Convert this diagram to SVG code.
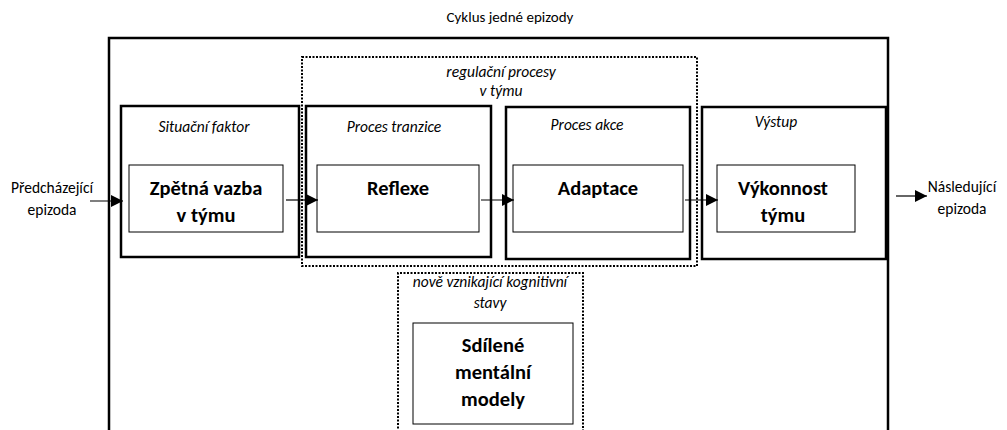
<svg xmlns="http://www.w3.org/2000/svg" width="1007" height="430" viewBox="0 0 1007 430">
<style>
text{font-family:Carlito,Lato,"Open Sans",sans-serif;fill:#000}
.t{font-size:15.5px}
.i{font-size:15.5px;font-style:italic}
.b{font-size:20.5px;font-weight:bold}
.box{fill:#fff;stroke:#000;stroke-width:2.5}
.in{fill:#fff;stroke:#000;stroke-width:1}
.dot{fill:none;stroke:#000;stroke-width:2;stroke-dasharray:2 1.5}
.c{stroke:#000;stroke-width:1.2;fill:none;marker-end:url(#ah)}
</style>
<defs>
<marker id="ah" viewBox="0 0 12 12" refX="12" refY="6" markerWidth="12" markerHeight="12" markerUnits="userSpaceOnUse" orient="auto">
<path d="M0,0 L12,6 L0,12 Z" fill="#000"/>
</marker>
</defs>
<rect width="1007" height="430" fill="#fff"/>
<text class="t" x="510" y="22" text-anchor="middle" style="font-size:15px">Cyklus jedné epizody</text>
<g id="outer"><path d="M109,432 V38 H888 V432" fill="none" stroke="#000" stroke-width="2.5"/></g>
<g id="regulacni">
<rect class="dot" x="302" y="57" width="395" height="209"/>
<text class="i" x="501" y="77" text-anchor="middle">regulační procesy</text>
<text class="i" x="501" y="96" text-anchor="middle">v týmu</text>
</g>
<g id="situacni">
<rect class="box" x="121" y="106" width="178" height="151"/>
<text class="i" x="204" y="132" text-anchor="middle">Situační faktor</text>
<rect class="in" x="129" y="165" width="154" height="67"/>
<text class="b" x="206" y="195" text-anchor="middle">Zpětná vazba</text>
<text class="b" x="206" y="222" text-anchor="middle">v týmu</text>
</g>
<g id="tranzice">
<rect class="box" x="306" y="106" width="185" height="151"/>
<text class="i" x="394" y="132" text-anchor="middle">Proces tranzice</text>
<rect class="in" x="317" y="165" width="162" height="67"/>
<text class="b" x="398" y="195" text-anchor="middle">Reflexe</text>
</g>
<g id="akce">
<rect class="box" x="506" y="107" width="184" height="152"/>
<text class="i" x="587" y="130" text-anchor="middle">Proces akce</text>
<rect class="in" x="513" y="165" width="170" height="67"/>
<text class="b" x="598" y="195" text-anchor="middle">Adaptace</text>
</g>
<g id="vystup">
<rect class="box" x="702" y="107" width="184" height="152"/>
<text class="i" x="776" y="127" text-anchor="middle">Výstup</text>
<rect class="in" x="717" y="165" width="138" height="67"/>
<text class="b" x="783" y="195" text-anchor="middle">Výkonnost</text>
<text class="b" x="783" y="222" text-anchor="middle">týmu</text>
</g>
<g id="kognitivni">
<path class="dot" d="M398,432 V273 H583 V432"/>
<text class="i" x="490" y="287" text-anchor="middle">nově vznikající kognitivní</text>
<text class="i" x="490" y="308" text-anchor="middle">stavy</text>
<rect class="in" x="413" y="323" width="160" height="101"/>
<text class="b" x="493" y="352" text-anchor="middle">Sdílené</text>
<text class="b" x="493" y="379" text-anchor="middle">mentální</text>
<text class="b" x="493" y="406" text-anchor="middle">modely</text>
</g>
<g id="labels">
<text class="t" x="52" y="193" text-anchor="middle">Předcházející</text>
<text class="t" x="52" y="215" text-anchor="middle">epizoda</text>
<text class="t" x="962" y="192" text-anchor="middle">Následující</text>
<text class="t" x="962" y="214" text-anchor="middle">epizoda</text>
</g>
<g id="connectors">
<line class="c" x1="90" y1="201" x2="123" y2="201"/>
<line class="c" x1="286" y1="200" x2="318" y2="200"/>
<line class="c" x1="481" y1="200" x2="514" y2="200"/>
<line class="c" x1="685" y1="200" x2="718" y2="200"/>
<line class="c" x1="896" y1="196" x2="927" y2="196"/>
</g>
</svg>
